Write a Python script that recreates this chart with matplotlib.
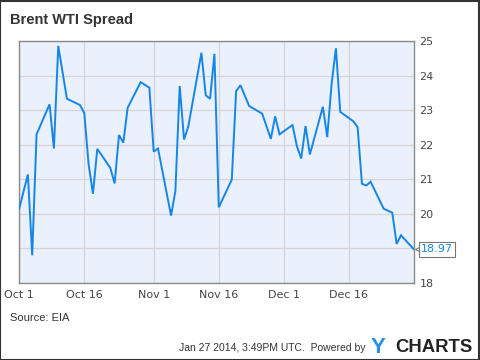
"""Brent WTI spread, Oct-Dec 2013, YCharts-style line chart."""

import matplotlib

matplotlib.use("Agg")
import matplotlib.dates as mdates
import matplotlib.pyplot as plt
import pandas as pd

# dates as placed on the chart's time axis, and the spread in $/bbl
DATES = [
    "2013-10-01", "2013-10-03", "2013-10-04", "2013-10-05", "2013-10-08",
    "2013-10-09", "2013-10-10", "2013-10-12", "2013-10-15", "2013-10-16",
    "2013-10-17", "2013-10-18", "2013-10-19", "2013-10-22", "2013-10-23",
    "2013-10-24", "2013-10-25", "2013-10-26", "2013-10-29", "2013-10-31",
    "2013-11-01", "2013-11-02", "2013-11-05", "2013-11-06", "2013-11-07",
    "2013-11-08", "2013-11-09", "2013-11-12", "2013-11-13", "2013-11-14",
    "2013-11-15", "2013-11-16", "2013-11-19", "2013-11-20", "2013-11-21",
    "2013-11-23", "2013-11-26", "2013-11-28", "2013-11-29", "2013-11-30",
    "2013-12-03", "2013-12-04", "2013-12-05", "2013-12-06", "2013-12-07",
    "2013-12-10", "2013-12-11", "2013-12-12", "2013-12-13", "2013-12-14",
    "2013-12-17", "2013-12-18", "2013-12-19", "2013-12-20", "2013-12-21",
    "2013-12-24", "2013-12-26", "2013-12-27", "2013-12-28", "2013-12-31",
]
SPREAD = [
    20.15, 21.14, 18.80, 22.30, 23.17,
    21.89, 24.86, 23.33, 23.15, 22.92,
    21.43, 20.58, 21.88, 21.33, 20.88,
    22.28, 22.06, 23.07, 23.81, 23.65,
    21.80, 21.89, 19.95, 20.66, 23.70,
    22.15, 22.54, 24.66, 23.43, 23.33,
    24.63, 20.19, 20.99, 23.55, 23.72,
    23.12, 22.90, 22.17, 22.82, 22.30,
    22.57, 21.96, 21.60, 22.54, 21.72,
    23.10, 22.22, 23.75, 24.79, 22.95,
    22.68, 22.51, 20.87, 20.82, 20.93,
    20.15, 20.03, 19.13, 19.38, 18.97,
]
X_TICKS = ["2013-10-01", "2013-10-16", "2013-11-01", "2013-11-16", "2013-12-01", "2013-12-16"]
X_TICK_LABELS = ["Oct 1", "Oct 16", "Nov 1", "Nov 16", "Dec 1", "Dec 16"]
Y_TICKS = [18, 19, 20, 21, 22, 23, 24, 25]
# the "19" label is hidden behind the last-value flag
Y_TICK_LABELS = ["18", "", "20", "21", "22", "23", "24", "25"]

LINE_BLUE = "#1586e6"
PANEL_BG = "#eaf0fc"
GRID = "#d4d4d4"
SPINE = "#8a8a8a"

dates = pd.to_datetime(DATES)

fig = plt.figure(figsize=(4.8, 3.6), dpi=100)
ax = fig.add_axes([0.040, 0.214, 0.8225, 0.672])
ax.set_facecolor(PANEL_BG)

ax.plot(dates, SPREAD, color=LINE_BLUE, linewidth=1.4, solid_joinstyle="miter", zorder=3)

ax.set_xlim(pd.Timestamp("2013-10-01"), pd.Timestamp("2013-12-31"))
ax.set_ylim(18, 25)
ax.set_xticks(pd.to_datetime(X_TICKS))
ax.set_xticklabels(X_TICK_LABELS)
ax.set_yticks(Y_TICKS)
ax.set_yticklabels(Y_TICK_LABELS)
ax.yaxis.tick_right()
ax.tick_params(axis="both", length=0, labelsize=8, colors="#444444")
ax.tick_params(axis="x", pad=5)
ax.tick_params(axis="y", pad=4)
for lbl in ax.get_yticklabels():
    lbl.set_horizontalalignment("left")
ax.grid(True, color=GRID, linewidth=0.9, zorder=0)
ax.set_axisbelow(True)
for spine in ax.spines.values():
    spine.set_color(SPINE)
    spine.set_linewidth(1.0)

# last value flag: small notch plus boxed value
last_x = mdates.date2num(dates[-1])
notch = ax.transData + matplotlib.transforms.ScaledTranslation(3 / 72, 0, fig.dpi_scale_trans)
ax.plot([last_x], [SPREAD[-1]], marker="<", markersize=5, markerfacecolor="white",
        markeredgecolor="#777777", markeredgewidth=0.8, clip_on=False, zorder=4,
        transform=notch)
ax.annotate(
    f"{SPREAD[-1]:.2f}",
    xy=(last_x, SPREAD[-1]),
    xytext=(5, 0),
    textcoords="offset points",
    va="center",
    ha="left",
    fontsize=8,
    color=LINE_BLUE,
    annotation_clip=False,
    zorder=5,
    bbox={"boxstyle": "square,pad=0.2", "fc": "white", "ec": "#777777", "lw": 0.8},
)

fig.text(0.021, 0.944, "Brent WTI Spread", fontsize=10.5, fontweight="bold",
         color="#333333", family="Liberation Sans", va="center")
fig.text(0.021, 0.117, "Source: EIA", fontsize=8, color="#333333",
         family="Liberation Sans", va="center")
fig.text(0.761, 0.033, "Jan 27 2014, 3:49PM UTC.  Powered by", fontsize=7.5, color="#333333",
         family="Liberation Sans", va="center", ha="right")
fig.text(0.771, 0.035, "Y", fontsize=16, fontweight="bold", color="#2a8fe8",
         family="Liberation Sans", va="center")
fig.text(0.823, 0.035, "CHARTS", fontsize=13.3, fontweight="bold", color="#222222",
         family="Liberation Sans", va="center")

# outer frame
fig.patches.append(plt.Rectangle((0.001, 0.001), 0.997, 0.997, transform=fig.transFigure,
                                 fill=False, edgecolor="#333333", linewidth=1.5))

fig.savefig("out.png", dpi=100)
